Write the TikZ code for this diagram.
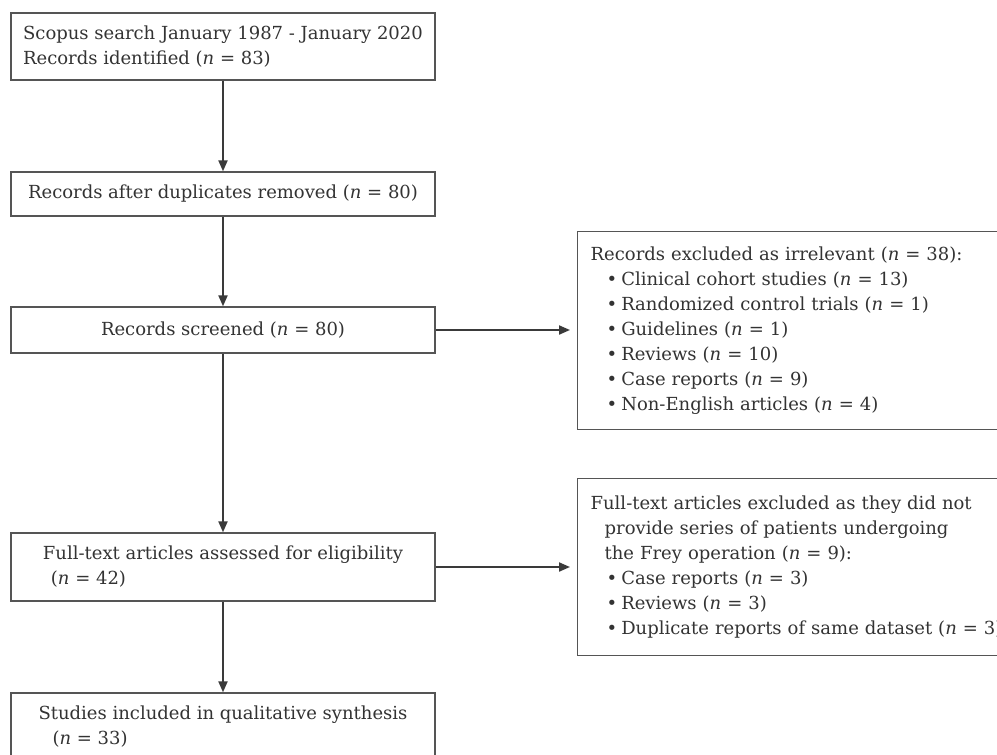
\documentclass[tikz,border=0pt]{standalone}
\usepackage{fontspec}
\setmainfont{DejaVu Serif}
\usetikzlibrary{arrows.meta}
\definecolor{txt}{HTML}{333333}
\definecolor{edge}{HTML}{555555}
\definecolor{arr}{HTML}{3A3A3A}
\newcommand{\nn}{\textit{n}}
\newcommand{\bul}{\hspace*{16pt}\textbullet\hspace{4pt}}
\begin{document}
\begin{tikzpicture}[x=1pt,y=-1pt,
  every node/.style={font=\fontsize{18}{25}\selectfont, text=txt},
  lbox/.style={draw=edge, line width=1.3pt, minimum width=424pt, inner sep=0pt, align=left},
  rbox/.style={draw=edge, line width=1.3pt, anchor=north west, inner xsep=13pt, inner ysep=0pt, text width=430pt, align=left},
  flow/.style={draw=arr, line width=2pt, -{Triangle[length=11pt,width=9pt]}}]
\useasboundingbox (0,0) rectangle (997,755);
\clip (0,0) rectangle (997,755);
\fill[white] (0,0) rectangle (997,755);
\node[lbox, minimum height=67pt] (b1) at (223,46.5) {Scopus search January 1987 - January 2020\\Records identified (\nn{} = 83)};
\node[lbox, minimum height=44pt] (b2) at (223,194) {Records after duplicates removed (\nn{} = 80)};
\node[lbox, minimum height=46pt] (b3) at (223,330) {Records screened (\nn{} = 80)};
\node[lbox, minimum height=68pt] (b4) at (223,567) {Full-text articles assessed for eligibility\\\hspace*{8pt}(\nn{} = 42)};
\node[lbox, minimum height=67pt] (b5) at (223,726.5) {Studies included in qualitative synthesis\\\hspace*{14pt}(\nn{} = 33)};
\node[rbox, minimum height=198pt] (r1) at (577,231) {Records excluded as irrelevant (\nn{} = 38):\\
\bul Clinical cohort studies (\nn{} = 13)\\
\bul Randomized control trials (\nn{} = 1)\\
\bul Guidelines (\nn{} = 1)\\
\bul Reviews (\nn{} = 10)\\
\bul Case reports (\nn{} = 9)\\
\bul Non-English articles (\nn{} = 4)};
\node[rbox, minimum height=177pt] (r2) at (577,478) {Full-text articles excluded as they did not\\
\hspace*{14pt}provide series of patients undergoing\\
\hspace*{14pt}the Frey operation (\nn{} = 9):\\
\bul Case reports (\nn{} = 3)\\
\bul Reviews (\nn{} = 3)\\
\bul Duplicate reports of same dataset (\nn{} = 3)};
\draw[flow] (b1) -- (b2);
\draw[flow] (b2) -- (b3);
\draw[flow] (b3) -- (b4);
\draw[flow] (b4) -- (b5);
\draw[flow, shorten >=7pt] (b3.east) -- (b3.east -| r1.west);
\draw[flow, shorten >=7pt] (b4.east) -- (b4.east -| r2.west);
\end{tikzpicture}
\end{document}
